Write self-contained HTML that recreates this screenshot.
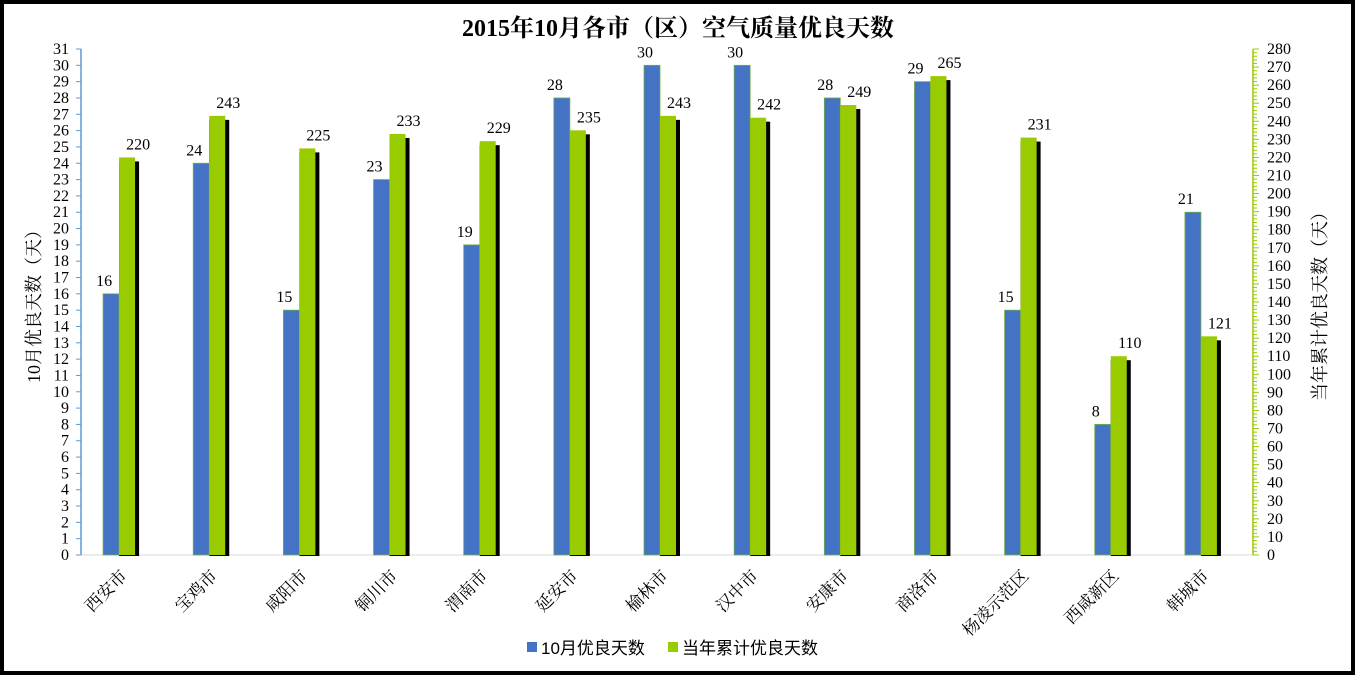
<!DOCTYPE html>
<html><head><meta charset="utf-8"><style>
body{margin:0;background:#fff}
svg text{font-family:"Liberation Serif","Noto Serif CJK SC",serif;fill:#000}
.cjk{font-family:"Liberation Sans","Noto Sans CJK SC",sans-serif}
.cjks{font-family:"Liberation Serif","Noto Serif CJK SC",serif}
</style></head><body>
<svg id="chart" width="1357" height="677" xmlns="http://www.w3.org/2000/svg">
<rect x="2" y="2" width="1351" height="671" fill="#fff" stroke="#000" stroke-width="4"/>
<text x="678" y="36" text-anchor="middle" font-size="24" font-weight="bold">2015年10月各市（区）空气质量优良天数</text>
<g id="plot"></g>
<text transform="translate(40,302) rotate(-90)" text-anchor="middle" font-size="18" class="cjks">10月优良天数（天）</text>
<text transform="translate(1326,302) rotate(-90)" text-anchor="middle" font-size="18" class="cjks">当年累计优良天数（天）</text>
<g>
<rect x="527" y="642" width="10" height="10" fill="#4472C4"/>
<text x="541" y="654" font-size="17" class="cjk">10月优良天数</text>
<rect x="668" y="642" width="10" height="10" fill="#99CC00"/>
<text x="682" y="654" font-size="17" class="cjk">当年累计优良天数</text>
</g>
</svg>
<script>
const categories=["西安市","宝鸡市","咸阳市","铜川市","渭南市","延安市","榆林市","汉中市","安康市","商洛市","杨凌示范区","西咸新区","韩城市"];
const octDays=[16,24,15,23,19,28,30,30,28,29,15,8,21];
const yearDays=[220,243,225,233,229,235,243,242,249,265,231,110,121];
const leftTicks=[0,1,2,3,4,5,6,7,8,9,10,11,12,13,14,15,16,17,18,19,20,21,22,23,24,25,26,27,28,29,30,31];
const rightTicks=[0,10,20,30,40,50,60,70,80,90,100,110,120,130,140,150,160,170,180,190,200,210,220,230,240,250,260,270,280];
const NS="http://www.w3.org/2000/svg";
const g=document.getElementById('plot');
const X0=81,X1=1253,Y0=555,Y1=49;
const yL=v=>Y0-(v/31)*(Y0-Y1);
const yR=v=>Y0-(v/280)*(Y0-Y1);
const bw=(X1-X0)/categories.length;
const cx=i=>X0+bw*(i+0.5);
function mk(t,a,p){const e=document.createElementNS(NS,t);for(const k in a)e.setAttribute(k,a[k]);(p||g).appendChild(e);return e;}
const base=mk('line',{x1:X0,y1:Y0,x2:X1,y2:Y0,stroke:'#d9d9d9','stroke-width':1});


const la=mk('line',{x1:X0,y1:Y1,x2:X0,y2:Y0,stroke:'#5B9BD5','stroke-width':1.5});


leftTicks.forEach(v=>{
 const y=yL(v);
 const tk=mk('line',{x1:X0-5,y1:y,x2:X0,y2:y,stroke:'#5B9BD5'});
 
 
 const t=mk('text',{x:X0-12,y:y+5,'text-anchor':'end','font-size':16});
 t.textContent=v;
 
 
});
const ra=mk('line',{x1:X1,y1:Y1,x2:X1,y2:Y0,stroke:'#99CC00','stroke-width':1.5});


rightTicks.forEach(v=>{
 const y=yR(v);
 const tk=mk('line',{x1:X1,y1:y,x2:X1+6,y2:y,stroke:'#99CC00'});
 
 
 if(v<280){for(let m=2;m<10;m+=2){const mt=mk('line',{x1:X1,y1:yR(v+m),x2:X1+4,y2:yR(v+m),stroke:'#99CC00'});}}
 const t=mk('text',{x:X1+14,y:y+5,'font-size':16});
 t.textContent=v;
 
 
});
categories.forEach((c,i)=>{
 const x=cx(i);
 const sh=mk('rect',{x:x-7,y:yR(yearDays[i])+4,width:20,height:Y0-yR(yearDays[i])-3,fill:'#000'});
 
 
 const b=mk('rect',{x:x-23,y:yL(octDays[i]),width:16,height:Y0-yL(octDays[i]),fill:'#4472C4',stroke:'#70AD47','stroke-width':0.8});
 
 
 const gb=mk('rect',{x:x-7,y:yR(yearDays[i]),width:16,height:Y0-yR(yearDays[i]),fill:'#99CC00'});
 
 
 const t1=mk('text',{x:x-22,y:yL(octDays[i])-8,'text-anchor':'middle','font-size':16});
 t1.textContent=octDays[i];
 
 
 const t2=mk('text',{x:x+12,y:yR(yearDays[i])-8,'text-anchor':'middle','font-size':16});
 t2.textContent=yearDays[i];
 
 
 const lb=mk('text',{transform:`translate(${x+2},577) rotate(-45)`,'text-anchor':'end','font-size':17,class:'cjks',fill:'#333'});
 lb.textContent=c;
 
 
});
</script>
</body></html>
